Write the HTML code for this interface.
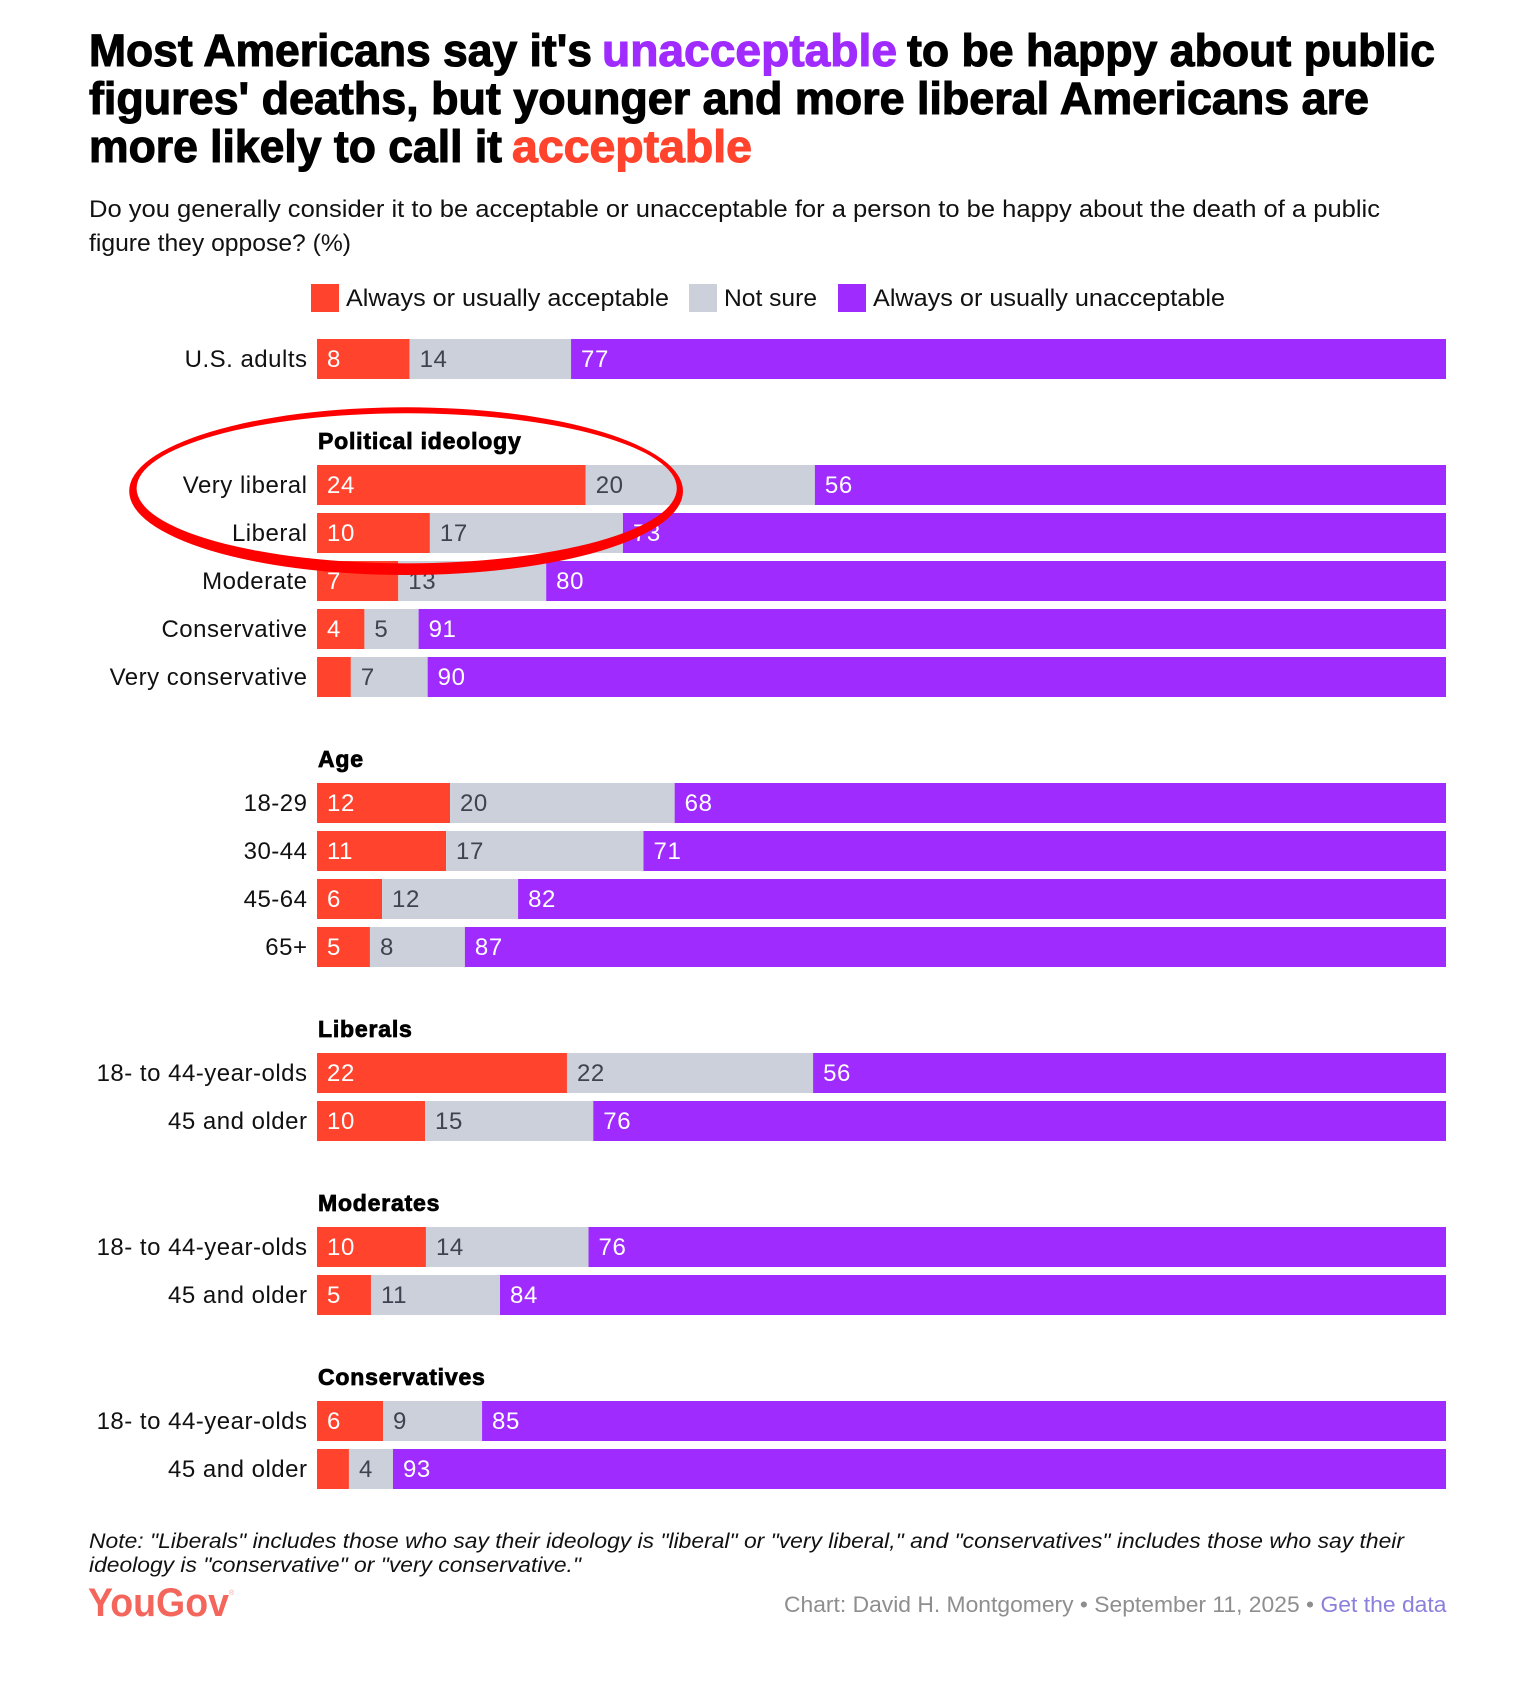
<!DOCTYPE html>
<html lang="en">
<head>
<meta charset="utf-8">
<title>YouGov chart: acceptability of being happy about public figures' deaths</title>
<style>
  html, body { margin: 0; padding: 0; background: #fff; }
  svg { display: block; font-family: "Liberation Sans", sans-serif; }
  .title { font-size: 45px; font-weight: 700; stroke-width: 1.1px; paint-order: stroke; }
  .body-text { font-size: 24px; fill: #111; }
  .note { font-size: 21.5px; font-style: italic; fill: #111; }
  .foot { font-size: 22px; fill: #8e8e8e; }
  .row-label { font-size: 24px; fill: #111; text-anchor: end; letter-spacing: 0.5px; }
  .val { font-size: 24px; letter-spacing: 0.6px; }
  .heading { font-size: 23px; font-weight: 700; fill: #000; stroke: #000; stroke-width: 0.8px; letter-spacing: 0.8px; }
</style>
</head>
<body>
<svg id="page" xmlns="http://www.w3.org/2000/svg" width="1532" height="1688" viewBox="0 0 1532 1688">
  <rect width="1532" height="1688" fill="#ffffff"/>

  <g>
    <text class="title" x="89" y="66" fill="#000" stroke="#000" textLength="503" lengthAdjust="spacingAndGlyphs">Most Americans say it's</text>
    <text class="title" x="602" y="66" fill="#a02bff" stroke="#a02bff" textLength="295" lengthAdjust="spacingAndGlyphs">unacceptable</text>
    <text class="title" x="907" y="66" fill="#000" stroke="#000" textLength="528" lengthAdjust="spacingAndGlyphs">to be happy about public</text>
    <text class="title" x="89" y="114" fill="#000" stroke="#000" textLength="1280" lengthAdjust="spacingAndGlyphs">figures' deaths, but younger and more liberal Americans are</text>
    <text class="title" x="89" y="162" fill="#000" stroke="#000" textLength="413" lengthAdjust="spacingAndGlyphs">more likely to call it</text>
    <text class="title" x="512" y="162" fill="#ff432d" stroke="#ff432d" textLength="240" lengthAdjust="spacingAndGlyphs">acceptable</text>
  </g>

  <g>
    <text class="body-text" x="89" y="217" textLength="1291" lengthAdjust="spacingAndGlyphs">Do you generally consider it to be acceptable or unacceptable for a person to be happy about the death of a public</text>
    <text class="body-text" x="89" y="251" textLength="262" lengthAdjust="spacingAndGlyphs">figure they oppose? (%)</text>
  </g>

  <g>
    <g>
      <rect x="311" y="284" width="28" height="28" fill="#ff432d"/>
      <text class="body-text" x="346" y="306" textLength="323" lengthAdjust="spacingAndGlyphs">Always or usually acceptable</text>
    </g>
    <g>
      <rect x="689" y="284" width="28" height="28" fill="#ccd0da"/>
      <text class="body-text" x="724" y="306" textLength="93" lengthAdjust="spacingAndGlyphs">Not sure</text>
    </g>
    <g>
      <rect x="838" y="284" width="28" height="28" fill="#a02bff"/>
      <text class="body-text" x="873" y="306" textLength="352" lengthAdjust="spacingAndGlyphs">Always or usually unacceptable</text>
    </g>
  </g>

  <g id="chart"></g>

  <path fill="#ff0000" fill-rule="evenodd"
        d="M129.2 491.15 A276.9 83.85 0 1 1 683 491.15 A276.9 83.85 0 1 1 129.2 491.15 Z
           M136.6 488.3 A270.1 75 0 1 0 676.8 488.3 A270.1 75 0 1 0 136.6 488.3 Z"/>

  <g>
    <text class="note" x="89" y="1548" textLength="1315" lengthAdjust="spacingAndGlyphs">Note: "Liberals" includes those who say their ideology is "liberal" or "very liberal," and "conservatives" includes those who say their</text>
    <text class="note" x="89" y="1572" textLength="492" lengthAdjust="spacingAndGlyphs">ideology is "conservative" or "very conservative."</text>
  </g>

  <g>
    <text x="88" y="1616" font-size="40" font-weight="700" fill="#f4665c" textLength="141" lengthAdjust="spacingAndGlyphs">YouGov</text>
    <text x="229" y="1595" font-size="7" fill="#f4a59f">®</text>
  </g>

  <g>
    <text class="foot" x="784" y="1612" textLength="530" lengthAdjust="spacingAndGlyphs">Chart: David H. Montgomery • September 11, 2025 •</text>
    <text class="foot" x="1320.5" y="1612" style="fill:#8b7fdc;cursor:pointer" textLength="126" lengthAdjust="spacingAndGlyphs">Get the data</text>
  </g>
</svg>

<script>
// Chart data
const groupTitles = ["", "Political ideology", "Age", "Liberals", "Moderates", "Conservatives"];
const categories = [
  ["U.S. adults"],
  ["Very liberal", "Liberal", "Moderate", "Conservative", "Very conservative"],
  ["18-29", "30-44", "45-64", "65+"],
  ["18- to 44-year-olds", "45 and older"],
  ["18- to 44-year-olds", "45 and older"],
  ["18- to 44-year-olds", "45 and older"]
];
const acceptable = [
  [8.2],
  [23.8, 10.0, 7.2, 4.2, 3.0],
  [11.78, 11.43, 5.76, 4.69],
  [22.14, 9.57],
  [9.65, 4.78],
  [5.85, 2.83]
];
const notSure = [
  [14.3],
  [20.3, 17.1, 13.1, 4.8, 6.8],
  [19.9, 17.49, 12.05, 8.41],
  [21.8, 14.9],
  [14.4, 11.43],
  [8.77, 3.9]
];
const unacceptable = [
  [77.49],
  [55.9, 72.9, 79.7, 91.0, 90.2],
  [68.32, 71.08, 82.19, 86.9],
  [56.06, 75.53],
  [75.95, 83.79],
  [85.38, 93.27]
];

const SVG_NS = "http://www.w3.org/2000/svg";
const chart = document.getElementById("chart");
const plotLeft = 317, plotWidth = 1129, barHeight = 40, rowStep = 48, groupGap = 78, firstRowY = 339;
const labelRight = 307.5, valuePad = 10, minLabelValue = 3.5;
const seriesColors = ["#ff432d", "#ccd0da", "#a02bff"];
const valueColors = ["#ffffff", "#3f4250", "#ffffff"];
const seriesNames = ["acceptable", "not-sure", "unacceptable"];

// Axis functions
function xScale(share) { return plotLeft + share * plotWidth; }
function yScale(rowIndex, groupIndex) { return firstRowY + rowIndex * rowStep + groupIndex * groupGap; }

function slug(s) { return s.toLowerCase().replace(/[^a-z0-9]+/g, "-").replace(/^-|-$/g, ""); }

function make(tag, attrs, text) {
  const el = document.createElementNS(SVG_NS, tag);
  Object.keys(attrs).forEach(function (k) { el.setAttribute(k, attrs[k]); });
  if (text !== undefined) el.textContent = text;
  chart.appendChild(el);
  return el;
}

let rowIndex = 0;
categories.forEach(function (rows, g) {
  if (groupTitles[g]) {
    const heading = make("text", { class: "heading", x: plotLeft + 1, y: yScale(rowIndex, g) - 16 }, groupTitles[g]);
    
    
  }
  rows.forEach(function (name, r) {
    const top = yScale(rowIndex, g);
    const rowSlug = slug((groupTitles[g] || "all") + "-" + name);
    const label = make("text", { class: "row-label", x: labelRight, y: top + 28 }, name);
    
    

    const values = [acceptable[g][r], notSure[g][r], unacceptable[g][r]];
    const total = values[0] + values[1] + values[2];
    let cum = 0;
    values.forEach(function (v, s) {
      const x0 = xScale(cum / total);
      const x1 = xScale((cum + v) / total);
      const bar = make("rect", { x: x0, y: top, width: x1 - x0, height: barHeight, fill: seriesColors[s] });
      
      
      if (v >= minLabelValue) {
        const val = make("text", { class: "val", x: x0 + valuePad, y: top + 28, fill: valueColors[s] }, String(Math.round(v)));
        
        
      }
      cum += v;
    });
    rowIndex += 1;
  });
});
</script>
</body>
</html>
